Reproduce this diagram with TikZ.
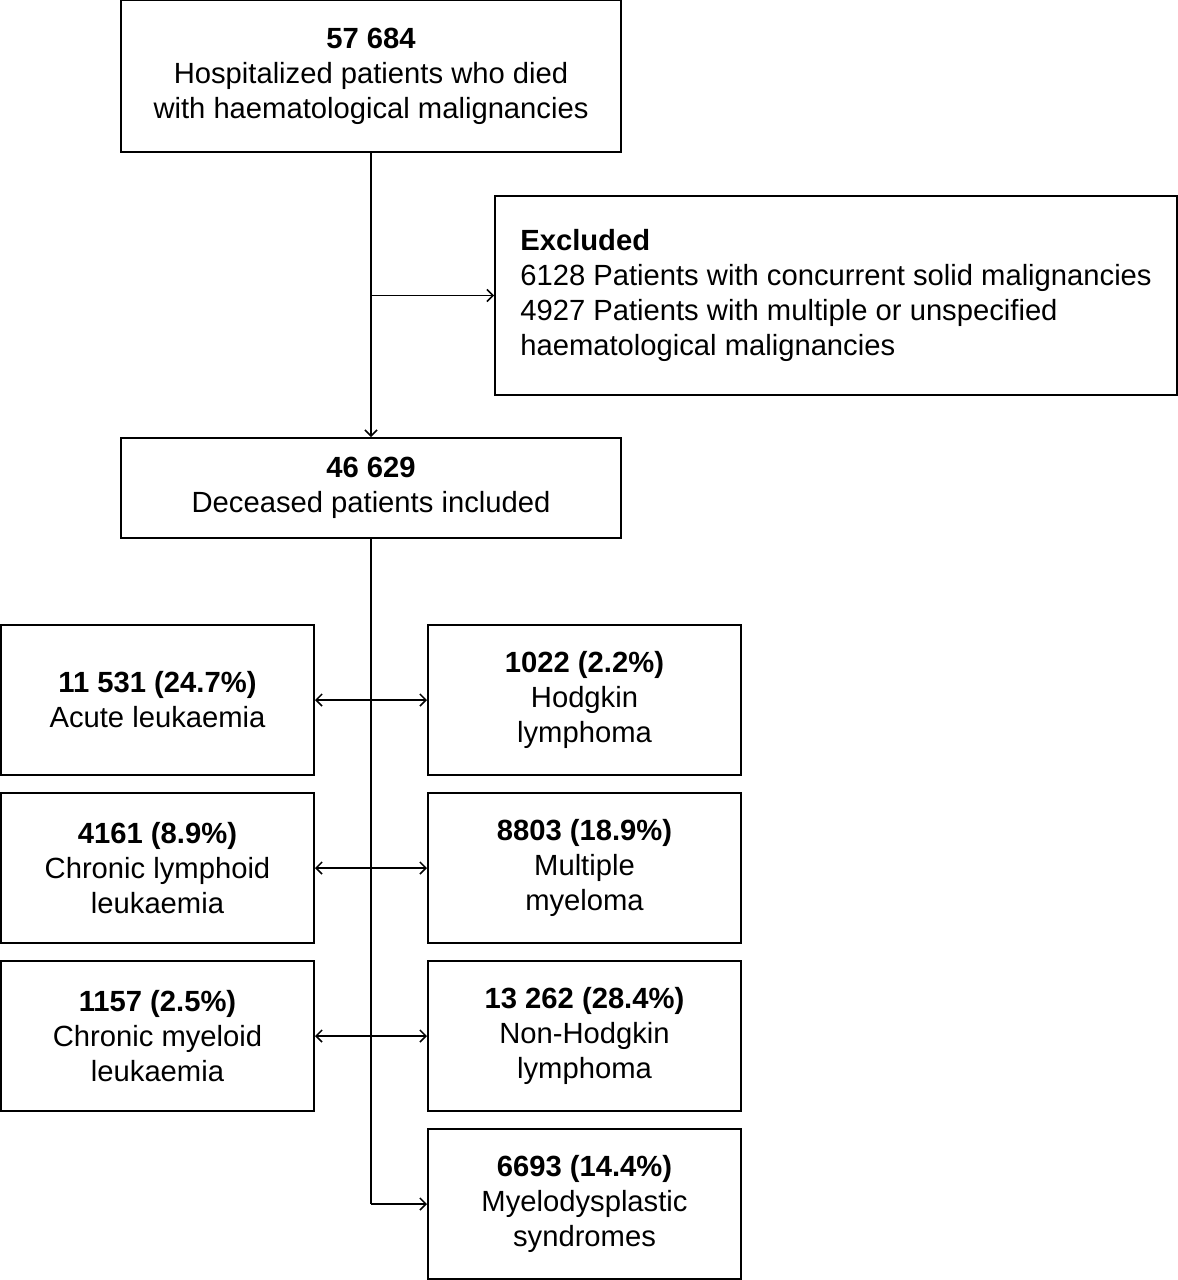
\documentclass[tikz,border=0pt]{standalone}
\usepackage{fontspec}
\setmainfont{Liberation Sans}
\usepackage{tikz}
\usetikzlibrary{arrows.meta, calc}

\begin{document}
\begin{tikzpicture}[x=0.5pt, y=-0.5pt,
    font=\fontsize{14.6}{17.5}\selectfont,
    box/.style={draw, line width=1pt, align=center, inner sep=0pt},
    catbox/.style={box, minimum width=156.5pt, minimum height=75pt},
    flow/.style={line width=0.75pt, -{Straight Barb[length=3pt, width=6pt]}},
    both/.style={line width=0.75pt, {Straight Barb[length=3pt, width=6pt]}-{Straight Barb[length=3pt, width=6pt]}}]
  \useasboundingbox (0,0) rectangle (1178,1280);

  % Start population
  \node[box, minimum width=250pt, minimum height=76pt] (start) at (371,76)
    {\textbf{57 684}\\Hospitalized patients who died\\with haematological malignancies};

  % Excluded patients
  \node[box, align=left, minimum width=341pt, minimum height=99.5pt] (excl) at (836,295.5)
    {\textbf{Excluded}\\6128 Patients with concurrent solid malignancies\\4927 Patients with multiple or unspecified\\haematological malignancies};

  % Included patients
  \node[box, minimum width=250pt, minimum height=50pt] (incl) at (371,488)
    {\textbf{46 629}\\Deceased patients included};

  % Left column
  \node[catbox] (acute) at (157.5,700) {\textbf{11 531 (24.7\%)}\\Acute leukaemia};
  \node[catbox] (cll) at (157.5,868) {\textbf{4161 (8.9\%)}\\Chronic lymphoid\\leukaemia};
  \node[catbox] (cml) at (157.5,1036) {\textbf{1157 (2.5\%)}\\Chronic myeloid\\leukaemia};

  % Right column
  \node[catbox] (hodg) at (584.5,700) {\textbf{1022 (2.2\%)}\\Hodgkin\\lymphoma};
  \node[catbox] (mm) at (584.5,868) {\textbf{8803 (18.9\%)}\\Multiple\\myeloma};
  \node[catbox] (nhl) at (584.5,1036) {\textbf{13 262 (28.4\%)}\\Non-Hodgkin\\lymphoma};
  \node[catbox] (mds) at (584.5,1204) {\textbf{6693 (14.4\%)}\\Myelodysplastic\\syndromes};

  % Connectors
  \coordinate (brExcl) at (start.south |- excl.west);
  \coordinate (brMds) at (incl.south |- mds.west);
  \draw[flow] (start.south) -- (incl.north);
  \draw[flow] (brExcl) -- (excl.west);
  \draw[line width=0.75pt] (incl.south) -- (brMds);
  \draw[flow] (brMds) -- (mds.west);
  \draw[both] (acute.east) -- (hodg.west);
  \draw[both] (cll.east) -- (mm.west);
  \draw[both] (cml.east) -- (nhl.west);
\end{tikzpicture}
\end{document}
